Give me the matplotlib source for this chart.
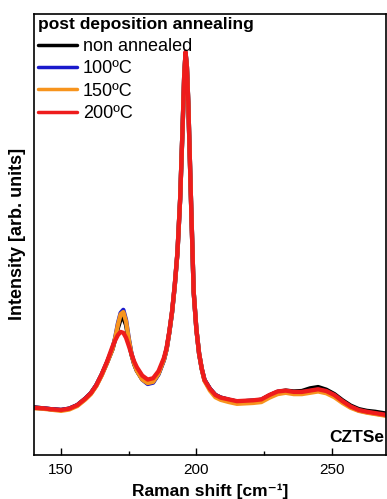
import matplotlib
matplotlib.use("Agg")
import matplotlib.pyplot as plt
from matplotlib.ticker import MultipleLocator

plt.rcParams['font.family'] = ['Liberation Sans', 'DejaVu Sans']

# Raman shift (cm^-1)
shift = [140, 143, 146, 150, 153, 156, 159, 161, 163, 165, 167, 169, 170, 171,
         172, 173, 174, 175, 176, 177, 178, 180, 182, 184, 186, 188, 189, 190,
         191, 192, 193, 194, 195, 195.5, 196, 196.5, 197, 198, 199, 200, 201,
         202, 203, 205, 207, 209, 212, 215, 218, 221, 224, 227, 230, 233, 236,
         239, 242, 245, 248, 251, 254, 257, 260, 263, 266, 270]

red = [10.7, 10.6, 10.4, 10.2, 10.5, 11.3, 12.8, 14.0, 15.8, 18.3, 21.2, 24.6,
       26.0, 27.2, 27.9, 27.7, 26.6, 24.8, 22.9, 21.2, 19.9, 18.0, 17.1, 17.4,
       19.0, 22.0, 24.3, 28.0, 32.5, 38.5, 46.0, 58.0, 76.0, 86.0, 91.4, 88.0,
       80.0, 58.0, 37.0, 28.5, 23.0, 19.5, 17.0, 15.0, 13.6, 13.0, 12.6, 12.2,
       12.3, 12.4, 12.6, 13.6, 14.4, 14.6, 14.3, 14.3, 14.6, 14.9, 14.5, 13.6,
       12.2, 11.0, 10.2, 9.8, 9.5, 9.1]

black = [10.8, 10.6, 10.4, 10.2, 10.5, 11.3, 12.8, 14.0, 15.8, 18.2, 21.0, 24.0,
         26.3, 28.8, 30.8, 31.1, 29.5, 26.0, 22.8, 20.6, 19.1, 17.2, 16.3, 16.6,
         18.4, 21.6, 24.0, 27.8, 32.3, 38.3, 45.8, 58.0, 76.0, 86.0, 91.2, 88.0,
         80.0, 58.0, 37.0, 28.5, 23.0, 19.5, 17.0, 15.0, 13.6, 13.0, 12.5, 12.1,
         12.2, 12.3, 12.5, 13.5, 14.3, 14.6, 14.4, 14.5, 15.1, 15.4, 14.8, 13.8,
         12.4, 11.2, 10.4, 10.0, 9.8, 9.4]

blue = [10.7, 10.6, 10.4, 10.2, 10.5, 11.3, 12.8, 14.0, 15.8, 18.2, 21.0, 24.1,
        26.6, 29.8, 32.2, 32.9, 30.6, 26.5, 23.0, 20.8, 19.2, 17.1, 16.1, 16.4,
        18.3, 21.5, 24.0, 27.8, 32.3, 38.3, 45.8, 58.0, 76.0, 86.0, 91.2, 88.0,
        80.0, 58.0, 37.0, 28.5, 23.0, 19.5, 17.0, 15.0, 13.6, 13.0, 12.5, 12.1,
        12.2, 12.3, 12.5, 13.5, 14.3, 14.5, 14.2, 14.2, 14.5, 14.8, 14.4, 13.5,
        12.1, 10.9, 10.1, 9.7, 9.4, 9.0]

orange = [10.6, 10.5, 10.3, 10.0, 10.3, 11.1, 12.6, 13.8, 15.6, 18.0, 20.9, 24.0,
          26.5, 29.5, 31.9, 32.4, 30.3, 26.3, 22.9, 20.7, 19.1, 17.1, 16.3, 16.6,
          18.4, 21.6, 24.0, 27.8, 32.3, 38.3, 45.8, 58.0, 76.0, 86.0, 91.0, 88.0,
          80.0, 58.0, 37.0, 28.5, 23.0, 19.5, 16.8, 14.6, 13.1, 12.5, 12.0, 11.6,
          11.7, 11.8, 12.0, 13.0, 13.8, 14.1, 13.8, 13.8, 14.1, 14.4, 14.0, 13.1,
          11.8, 10.7, 10.0, 9.6, 9.3, 8.9]

labels = ['non annealed', '100ºC', '150ºC', '200ºC']
colors = ['#000000', '#1a1acc', '#f7941d', '#ee1c1c']
series = [black, blue, orange, red]

fig = plt.figure(figsize=(3.87, 4.99), dpi=100)
ax = fig.add_axes([0.0879, 0.0882, 0.909, 0.884])

for y, c, lab in zip(series, colors, labels):
    ax.plot(shift, y, color=c, lw=3.1, label=lab, solid_capstyle='round')

ax.set_xlim(140, 270)
ax.set_ylim(0, 100)
ax.xaxis.set_major_locator(MultipleLocator(50))
ax.xaxis.set_minor_locator(MultipleLocator(25))
ax.tick_params(axis='x', which='major', direction='in', length=5, width=1,
               labelsize=11, pad=6, top=False)
ax.tick_params(axis='x', which='minor', direction='in', length=3, width=1, top=False)
ax.set_yticks([])
for s in ax.spines.values():
    s.set_linewidth(1.2)

ax.set_xlabel('Raman shift [cm\u207b\u00b9]', fontsize=12.5, fontweight='bold',
              labelpad=4.5)
ax.set_ylabel('Intensity [arb. units]', fontsize=13, fontweight='bold', labelpad=6)

leg = ax.legend(loc='upper left', frameon=False, fontsize=13,
                title='post deposition annealing',
                title_fontproperties={'weight': 'bold', 'size': 12.5},
                alignment='left', handlelength=2.2, handletextpad=0.3,
                labelspacing=0.3, borderpad=0.1, borderaxespad=0.1)
for h in leg.get_lines():
    h.set_linewidth(2.5)

ax.text(0.995, 0.04, 'CZTSe', transform=ax.transAxes, ha='right', va='center',
        fontsize=12.5, fontweight='bold')

fig.savefig('out.png', dpi=100)
